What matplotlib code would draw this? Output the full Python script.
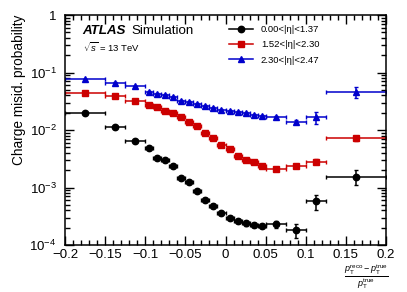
import numpy as np
import matplotlib
matplotlib.use("Agg")
import matplotlib.pyplot as plt
from matplotlib.lines import Line2D
from matplotlib.ticker import FuncFormatter, LogLocator, MultipleLocator, NullFormatter

plt.rcParams['font.family'] = ['Liberation Sans', 'DejaVu Sans']
plt.rcParams['mathtext.fontset'] = 'custom'
plt.rcParams['mathtext.rm'] = 'Liberation Sans'
plt.rcParams['mathtext.it'] = 'Liberation Sans:italic'
plt.rcParams['mathtext.bf'] = 'Liberation Sans:bold'

# ---- data ----
x_edges = [-0.2, -0.15, -0.125, -0.1, -0.09, -0.08, -0.07, -0.06, -0.05, -0.04,
           -0.03, -0.02, -0.01, 0.0, 0.01, 0.02, 0.03, 0.04, 0.05, 0.075, 0.1,
           0.125, 0.2]
labels = ["0.00<|η|<1.37", "1.52<|η|<2.30", "2.30<|η|<2.47"]
prob_central = [0.0195, 0.0111, 0.00652, 0.00492, 0.00330, 0.00301, 0.00237,
                0.00148, 0.00126, 0.000869, 0.000614, 0.000477, 0.000356,
                0.000298, 0.000261, 0.000238, 0.000223, 0.000214, 0.000229,
                0.000182, 0.000582, 0.00154]
prob_endcap = [0.0435, 0.0390, 0.0319, 0.0269, 0.0248, 0.0217, 0.0195, 0.0166,
               0.0139, 0.01174, 0.00898, 0.00717, 0.00548, 0.00467, 0.00357,
               0.00301, 0.00278, 0.00237, 0.00207, 0.00237, 0.00283, 0.00717]
prob_forward = [0.0762, 0.0665, 0.0582, 0.0464, 0.0423, 0.0411, 0.0379, 0.0323,
                0.0307, 0.0287, 0.0265, 0.0241, 0.0223, 0.0214, 0.0203, 0.0195,
                0.0185, 0.0175, 0.0166, 0.0138, 0.0166, 0.0464]
err_central = [0.0005, 0.0004, 0.0002, 0.00015, 0.0001, 0.0001, 0.00008,
               0.00006, 0.00005, 0.00004, 0.00003, 0.00003, 0.00002, 0.00002,
               0.00002, 0.00002, 0.00002, 0.00002, 0.00003, 0.00005, 0.00017,
               0.00045]
err_endcap = [0.001, 0.0008, 0.0006, 0.0005, 0.0005, 0.0004, 0.0004, 0.0003,
              0.0003, 0.0002, 0.0002, 0.00015, 0.00012, 0.0001, 0.0001, 0.0001,
              0.0001, 0.0001, 0.0001, 0.0001, 0.0003, 0.0008]
err_forward = [0.0015, 0.0012, 0.001, 0.0009, 0.0009, 0.0009, 0.0008, 0.0008,
               0.0008, 0.0008, 0.0007, 0.0007, 0.0007, 0.0007, 0.0007, 0.0007,
               0.0007, 0.0007, 0.0008, 0.001, 0.004, 0.01]

edges = np.array(x_edges)
centers = 0.5 * (edges[1:] + edges[:-1])
half = 0.5 * (edges[1:] - edges[:-1])

W, H = 407, 292
fig = plt.figure(figsize=(W / 100, H / 100), dpi=100)
ax = fig.add_axes([65 / W, 1 - 245 / H, 321 / W, 230 / H])

series = [
    (prob_central, err_central, 'black', 'o', 4.6),
    (prob_endcap, err_endcap, '#cc0000', 's', 4.4),
    (prob_forward, err_forward, '#0000cc', '^', 4.6),
]
handles = []
for (vals, errs, col, mk, ms), lab in zip(series, labels):
    ax.errorbar(centers, vals, xerr=half, yerr=errs, fmt=mk, color=col,
                ms=ms, lw=1.1, capsize=1.2, capthick=1.0)
    handles.append(Line2D([], [], color=col, marker=mk, ms=ms, lw=1.1, label=lab))

ax.set_yscale('log')
ax.set_xlim(-0.2, 0.2)
ax.set_ylim(1e-4, 1)

ax.xaxis.set_major_locator(MultipleLocator(0.05))
ax.xaxis.set_minor_locator(MultipleLocator(0.01))
ax.xaxis.set_major_formatter(FuncFormatter(
    lambda v, p: ('%g' % round(v, 3)).replace('-', '\u2212') if abs(v) > 1e-9 else '0'))
ax.yaxis.set_major_locator(LogLocator(base=10, numticks=10))
ax.yaxis.set_minor_locator(LogLocator(base=10, subs=np.arange(2, 10), numticks=10))
ax.yaxis.set_minor_formatter(NullFormatter())

def yfmt(v, p):
    e = int(round(np.log10(v)))
    if e == 0:
        return '1'
    return r'$10^{%d}$' % e
ax.yaxis.set_major_formatter(FuncFormatter(yfmt))

ax.tick_params(which='both', direction='in', top=True, right=True, width=1.0,
               labelsize=9.5)
ax.tick_params(which='major', length=6.5)
ax.tick_params(which='minor', length=3.5)
ax.tick_params(axis='x', which='major', pad=3)
ax.tick_params(axis='y', which='major', pad=6)
for s in ax.spines.values():
    s.set_linewidth(1.1)

fig.text(19 / W, 1 - 15 / H, 'Charge misid. probability', rotation=90,
         ha='center', va='top', fontsize=9.8)
fig.text(366 / W, 1 - 277 / H,
         r'$\frac{p_{\mathrm{T}}^{\mathrm{reco}}-p_{\mathrm{T}}^{\mathrm{true}}}{p_{\mathrm{T}}^{\mathrm{true}}}$',
         ha='center', va='center', fontsize=9.2)

ax.text(0.055, 0.916, 'ATLAS', transform=ax.transAxes, fontsize=9.6,
        fontweight='bold', fontstyle='italic', va='baseline')
ax.text(0.208, 0.916, 'Simulation', transform=ax.transAxes, fontsize=9.6,
        va='baseline')
ax.text(0.055, 0.84, r'$\sqrt{s}$ = 13 TeV', transform=ax.transAxes,
        fontsize=6.8, va='baseline')

leg = ax.legend(handles=handles, loc='upper left', bbox_to_anchor=(0.51, 0.955),
                frameon=False, fontsize=6.8, handlelength=2.6, handletextpad=0.8,
                labelspacing=0.65, borderaxespad=0, borderpad=0)

fig.savefig('out.png', dpi=100)
